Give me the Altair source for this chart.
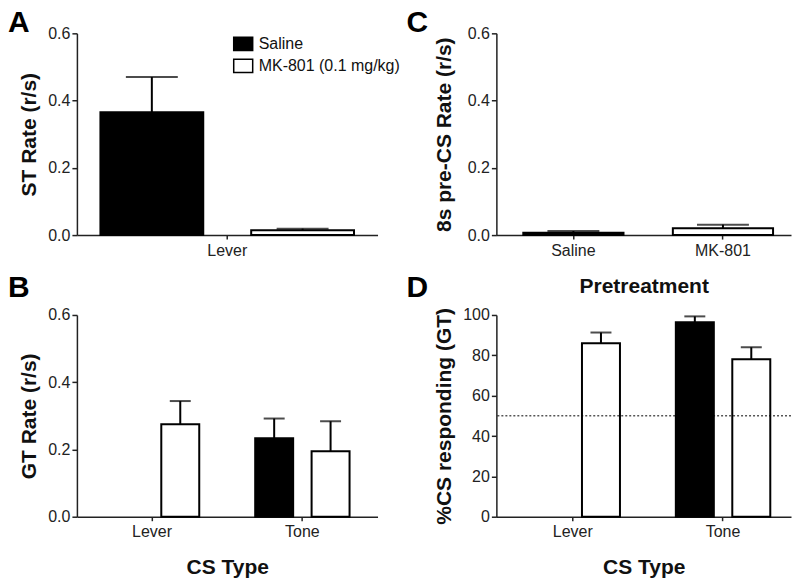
import altair as alt
import pandas as pd

FONT = "Liberation Sans"
groups = ["Saline", "MK-801 (0.1 mg/kg)"]
cs_types = ["Lever", "Tone"]

# Panel A: sign-tracking rate (Lever CS)
st_cs = ["Lever", "Lever"]
st_group = ["Saline", "MK-801 (0.1 mg/kg)"]
st_mean = [0.365, 0.014]
st_upper = [0.470, 0.019]

# Panel B: goal-tracking rate
gt_cs = ["Lever", "Tone", "Tone"]
gt_group = ["MK-801 (0.1 mg/kg)", "Saline", "MK-801 (0.1 mg/kg)"]
gt_mean = [0.275, 0.233, 0.195]
gt_upper = [0.344, 0.292, 0.284]

# Panel C: 8s pre-CS rate
pre_x = ["Saline", "MK-801"]
pre_group = ["Saline", "MK-801 (0.1 mg/kg)"]
pre_mean = [0.007, 0.020]
pre_upper = [0.012, 0.031]

# Panel D: % CS responding (GT)
pct_cs = ["Lever", "Tone", "Tone"]
pct_group = ["MK-801 (0.1 mg/kg)", "Saline", "MK-801 (0.1 mg/kg)"]
pct_mean = [86.0, 96.4, 78.0]
pct_upper = [91.3, 99.3, 84.0]
threshold = [50]

rate_ticks = [0, 0.2, 0.4, 0.6]
pct_ticks = [0, 20, 40, 60, 80, 100]

fill_scale = alt.Scale(domain=groups, range=["#000000", "#ffffff"])


def letter(t, dx, offset):
    return alt.TitleParams(t, anchor="start", frame="group", dx=dx, offset=offset,
                           fontSize=30, fontWeight="bold", font=FONT, color="#000")


def panel(df, xfield, xdomain, xpad, offpad, ydomain, yticks, yfmt, ytitle, xtitle,
          cap, legend, title_x, extra=None):
    base = alt.Chart(df)
    x = alt.X(f"{xfield}:N", sort=xdomain,
              scale=alt.Scale(domain=xdomain, paddingInner=xpad[0], paddingOuter=xpad[1],
                              align=xpad[2]),
              axis=alt.Axis(title=xtitle, labelAngle=0, tickSize=4, labelPadding=3,
                            titlePadding=17))
    y = alt.Y("mean:Q", scale=alt.Scale(domain=ydomain, nice=False, zero=True),
              axis=alt.Axis(title=ytitle, values=yticks, format=yfmt, tickSize=5,
                            labelPadding=2, titleX=title_x))
    enc = dict(x=x)
    if offpad is not None:
        enc["xOffset"] = alt.XOffset("group:N", sort=groups,
                                     scale=alt.Scale(domain=groups, paddingInner=offpad[0],
                                                     paddingOuter=offpad[1]))
    bars = base.mark_bar(stroke="#000", strokeWidth=2).encode(
        y=y, fill=alt.Fill("group:N", scale=fill_scale, legend=legend), **enc)
    err = base.mark_rule(color="#000", strokeWidth=2).encode(
        y="mean:Q", y2="upper:Q", **enc)
    caps = base.mark_tick(color="#000", size=cap, thickness=2).encode(
        y="upper:Q", **enc)
    layers = [bars, err, caps]
    if extra is not None:
        layers.append(extra)
    return alt.layer(*layers)


dfA = pd.DataFrame({"cs": st_cs, "group": st_group, "mean": st_mean, "upper": st_upper})
dfB = pd.DataFrame({"cs": gt_cs, "group": gt_group, "mean": gt_mean, "upper": gt_upper})
dfC = pd.DataFrame({"pre": pre_x, "group": pre_group, "mean": pre_mean, "upper": pre_upper})
dfD = pd.DataFrame({"cs": pct_cs, "group": pct_group, "mean": pct_mean, "upper": pct_upper})
dfT = pd.DataFrame({"t": threshold})

legendA = alt.Legend(orient="none", legendX=156, legendY=0, title=None,
                     symbolType="M-1,-0.7L1,-0.7L1,0.7L-1,0.7Z", symbolSize=361,
                     symbolStrokeColor="#000", symbolStrokeWidth=1.5,
                     labelFont=FONT, labelFontSize=16, labelColor="#111",
                     labelOffset=5, rowPadding=1)

dotted = alt.Chart(dfT).mark_rule(color="#000", strokeWidth=1, strokeDash=[2, 2]).encode(
    y=alt.Y("t:Q"))

A = panel(dfA, "cs", ["Lever"], (0, 0, 0.5), (0.318, 0.156), [0, 0.6], rate_ticks, ".1f",
          "ST Rate (r/s)", None, 52, legendA, -37).properties(
    width=301, height=202, title=letter("A", -69, -13))
B = panel(dfB, "cs", cs_types, (0, 0, 0.5), (0.327, 0.496), [0, 0.6], rate_ticks, ".1f",
          "GT Rate (r/s)", "CS Type", 21, None, -37).properties(
    width=301, height=202, title=letter("B", -69, 4))
C = panel(dfC, "pre", pre_x, (0.33, 0.15, 0.6), None, [0, 0.6], rate_ticks, ".1f",
          "8s pre-CS Rate (r/s)", "Pretreatment", 52, None, -42).properties(
    width=295, height=202, title=letter("C", -90, -13))
D = panel(dfD, "cs", cs_types, (0.096, 0.028, 1.0), (0.327, 0.367), [0, 100], pct_ticks, "d",
          "%CS responding (GT)", "CS Type", 21, None, -42, extra=dotted).properties(
    width=295, height=202, title=letter("D", -90, 4))

chart = alt.concat(A, C, B, D, columns=2, spacing={"row": 80, "column": 119},
                   bounds="flush", padding=0).resolve_scale(
    fill="independent", xOffset="independent").resolve_legend(
    fill="independent").configure_view(stroke=None).configure_axis(
    grid=False, domainColor="#222", domainWidth=1.5, tickColor="#222", tickWidth=1.5,
    labelFont=FONT, labelFontSize=16, labelColor="#222",
    titleFont=FONT, titleFontSize=21, titleFontWeight="bold", titleColor="#111")

chart.save("out.html", embed_options={"renderer": "svg", "actions": False})
